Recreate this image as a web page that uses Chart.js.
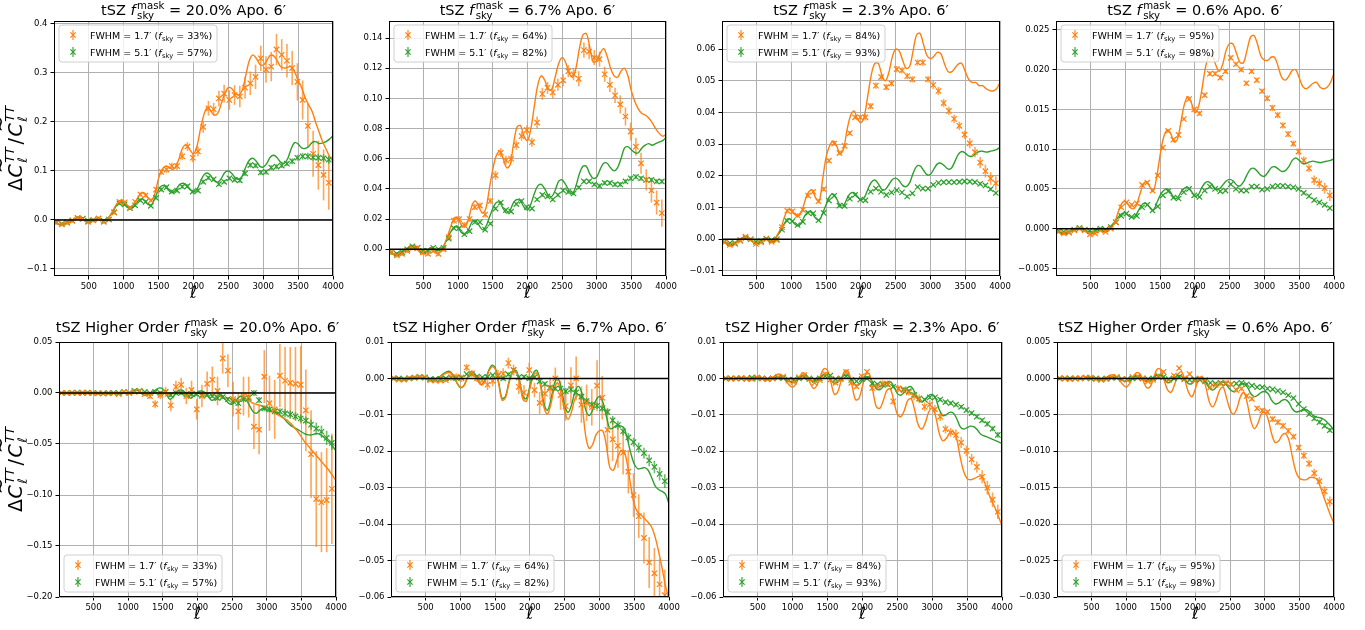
<!DOCTYPE html>
<html>
<head>
<meta charset="utf-8">
<style>
  html, body { margin: 0; padding: 0; background: #fff; }
  #fig { position: relative; width: 1365px; height: 630px; overflow: hidden; }
  #fig canvas { position: absolute; }
</style>
</head>
<body>
<div id="fig"></div>
<script src="https://cdn.jsdelivr.net/npm/chart.js@4.4.1/dist/chart.umd.min.js"></script>
<script>
// multipole bin centres of the measured points, and the grid the theory curves are sampled on
var ELL_BINS = [40,115,190,265,340,415,490,565,640,715,790,865,940,1015,1090,1165,1240,1315,1390,1465,1540,1615,1690,1765,1840,1915,1990,2065,2140,2215,2290,2365,2440,2515,2590,2665,2740,2815,2890,2965,3040,3115,3190,3265,3340,3415,3490,3565,3640,3715,3790,3865,3940];
var ELL_LINE = [0,50,100,150,200,250,300,350,400,450,500,550,600,650,700,750,800,850,900,950,1000,1050,1100,1150,1200,1250,1300,1350,1400,1450,1500,1550,1600,1650,1700,1750,1800,1850,1900,1950,2000,2050,2100,2150,2200,2250,2300,2350,2400,2450,2500,2550,2600,2650,2700,2750,2800,2850,2900,2950,3000,3050,3100,3150,3200,3250,3300,3350,3400,3450,3500,3550,3600,3650,3700,3750,3800,3850,3900,3950,4000];
var X_TICKS = [500,1000,1500,2000,2500,3000,3500,4000];

var FSKY_MASK = ['20.0%', '6.7%', '2.3%', '0.6%'];
var FSKY_17 = [33, 64, 84, 95];
var FSKY_51 = [57, 82, 93, 98];

var Y_TICKS_TSZ_20 = [-0.1, 0, 0.1, 0.2, 0.3, 0.4];
var Y_TICKS_TSZ_67 = [0, 0.02, 0.04, 0.06, 0.08, 0.1, 0.12, 0.14];
var Y_TICKS_TSZ_23 = [-0.01, 0, 0.01, 0.02, 0.03, 0.04, 0.05, 0.06];
var Y_TICKS_TSZ_06 = [-0.005, 0, 0.005, 0.01, 0.015, 0.02, 0.025];
var Y_TICKS_HO_20 = [-0.2, -0.15, -0.1, -0.05, 0, 0.05];
var Y_TICKS_HO_67 = [-0.06, -0.05, -0.04, -0.03, -0.02, -0.01, 0, 0.01];
var Y_TICKS_HO_23 = [-0.06, -0.05, -0.04, -0.03, -0.02, -0.01, 0, 0.01];
var Y_TICKS_HO_06 = [-0.03, -0.025, -0.02, -0.015, -0.01, -0.005, 0, 0.005];

// ---- tSZ, fsky mask 20.0%
var TSZ_20_LINE_17 = [-0.005,-0.008,-0.01,-0.008,-0.006,-0.002,0.002,0.004,0.002,-0.002,
 -0.004,-0.002,0.001,0.002,-0.002,0.0,0.008,0.02,0.033,0.04,
 0.038,0.03,0.026,0.032,0.045,0.055,0.055,0.045,0.04,0.055,
 0.085,0.103,0.11,0.108,0.103,0.11,0.128,0.148,0.153,0.143,
 0.135,0.15,0.185,0.215,0.23,0.222,0.214,0.218,0.238,0.258,
 0.27,0.268,0.258,0.255,0.265,0.295,0.325,0.337,0.33,0.318,
 0.316,0.325,0.336,0.335,0.325,0.313,0.31,0.312,0.313,0.302,
 0.285,0.27,0.25,0.235,0.222,0.2,0.18,0.16,0.145,0.13,0.12];
var TSZ_20_LINE_51 = [-0.005,-0.008,-0.009,-0.007,-0.005,-0.001,0.003,0.005,0.003,-0.001,
 -0.003,-0.001,0.002,0.003,-0.001,0.0,0.008,0.018,0.03,0.036,
 0.033,0.026,0.023,0.028,0.038,0.043,0.04,0.032,0.031,0.045,
 0.062,0.07,0.068,0.06,0.056,0.062,0.072,0.075,0.07,0.062,
 0.058,0.062,0.078,0.092,0.096,0.09,0.08,0.077,0.085,0.097,
 0.1,0.095,0.086,0.083,0.09,0.108,0.122,0.126,0.12,0.11,
 0.108,0.115,0.128,0.132,0.127,0.118,0.116,0.125,0.145,0.158,
 0.155,0.147,0.146,0.15,0.158,0.16,0.156,0.157,0.16,0.165,0.172];
var TSZ_20_PTS_17 = [-0.005,-0.009,-0.006,-0.002,0.004,0.002,-0.004,-0.001,0.003,-0.004,
 0.001,0.015,0.037,0.036,0.025,0.037,0.052,0.05,0.04,0.062,
 0.098,0.103,0.11,0.11,0.13,0.15,0.127,0.14,0.19,0.228,
 0.226,0.248,0.258,0.245,0.255,0.252,0.27,0.279,0.292,0.33,
 0.307,0.313,0.348,0.337,0.325,0.31,0.282,0.245,0.192,0.135,
 0.112,0.092,0.076];
var TSZ_20_ERR_17 = [0.004,0.004,0.004,0.004,0.004,0.004,0.004,0.004,0.004,0.004,
 0.004,0.004,0.004,0.004,0.004,0.004,0.004,0.004,0.004,0.006,
 0.006,0.007,0.007,0.008,0.008,0.009,0.009,0.01,0.012,0.015,
 0.013,0.016,0.018,0.02,0.02,0.022,0.022,0.024,0.025,0.026,
 0.027,0.03,0.032,0.032,0.034,0.035,0.038,0.04,0.045,0.047,
 0.05,0.052,0.055];
var TSZ_20_PTS_51 = [-0.005,-0.008,-0.005,-0.001,0.004,0.003,-0.002,0.0,0.003,-0.002,
 0.001,0.016,0.034,0.032,0.024,0.03,0.04,0.037,0.029,0.045,
 0.062,0.067,0.058,0.06,0.068,0.069,0.058,0.06,0.078,0.086,
 0.083,0.073,0.078,0.085,0.082,0.081,0.095,0.112,0.111,0.097,
 0.098,0.107,0.109,0.111,0.115,0.12,0.127,0.13,0.13,0.128,
 0.127,0.126,0.123];
var TSZ_20_ERR_51 = [0.003,0.003,0.003,0.003,0.003,0.003,0.003,0.003,0.003,0.003,
 0.003,0.003,0.003,0.003,0.003,0.003,0.003,0.003,0.003,0.003,
 0.004,0.004,0.004,0.004,0.004,0.004,0.004,0.004,0.004,0.004,
 0.004,0.004,0.004,0.004,0.004,0.005,0.005,0.005,0.005,0.005,
 0.005,0.005,0.005,0.005,0.005,0.006,0.006,0.007,0.007,0.007,
 0.008,0.008,0.008];

// ---- tSZ, fsky mask 6.7%
var TSZ_67_LINE_17 = [-0.002,-0.003,-0.004,-0.003,-0.002,0.0,0.002,0.002,0.0,-0.002,
 -0.003,-0.002,0.0,-0.001,-0.003,-0.001,0.003,0.009,0.016,0.021,
 0.02,0.016,0.015,0.02,0.029,0.032,0.028,0.024,0.027,0.04,
 0.053,0.062,0.065,0.06,0.054,0.056,0.07,0.081,0.082,0.075,
 0.072,0.08,0.095,0.109,0.115,0.112,0.106,0.106,0.114,0.123,
 0.127,0.124,0.117,0.114,0.12,0.133,0.142,0.143,0.134,0.124,
 0.125,0.13,0.133,0.128,0.12,0.115,0.114,0.118,0.12,0.115,
 0.105,0.098,0.093,0.09,0.089,0.087,0.084,0.08,0.077,0.075,0.076];
var TSZ_67_LINE_51 = [-0.002,-0.003,-0.003,-0.002,-0.001,0.0,0.002,0.002,0.001,-0.001,
 -0.002,-0.001,0.001,0.0,-0.001,0.0,0.003,0.008,0.012,0.015,
 0.014,0.011,0.01,0.013,0.018,0.019,0.016,0.013,0.015,0.021,
 0.027,0.031,0.031,0.027,0.024,0.026,0.031,0.033,0.032,0.028,
 0.026,0.03,0.037,0.042,0.043,0.04,0.036,0.035,0.039,0.045,
 0.046,0.043,0.039,0.037,0.042,0.05,0.055,0.055,0.05,0.047,
 0.048,0.053,0.057,0.057,0.054,0.052,0.054,0.06,0.067,0.068,
 0.066,0.064,0.064,0.067,0.069,0.07,0.069,0.07,0.071,0.072,0.074];
var TSZ_67_PTS_17 = [-0.002,-0.004,-0.003,-0.001,0.001,0.001,-0.002,-0.003,-0.001,-0.003,
 0.0,0.008,0.019,0.02,0.016,0.02,0.028,0.029,0.023,0.032,
 0.049,0.064,0.059,0.06,0.069,0.075,0.079,0.071,0.084,0.103,
 0.107,0.104,0.109,0.112,0.118,0.116,0.113,0.132,0.131,0.127,
 0.126,0.116,0.109,0.102,0.096,0.088,0.078,0.068,0.057,0.046,
 0.039,0.031,0.024];
var TSZ_67_ERR_17 = [0.0015,0.0015,0.0015,0.0015,0.0015,0.0015,0.0015,0.0015,0.0015,0.0015,
 0.0015,0.002,0.002,0.002,0.002,0.002,0.002,0.002,0.002,0.002,
 0.003,0.003,0.003,0.003,0.003,0.003,0.003,0.003,0.004,0.004,
 0.004,0.004,0.004,0.004,0.004,0.004,0.005,0.005,0.005,0.005,
 0.005,0.005,0.005,0.005,0.006,0.006,0.006,0.006,0.007,0.007,
 0.008,0.008,0.009];
var TSZ_67_PTS_51 = [-0.002,-0.003,-0.002,0.0,0.002,0.001,-0.001,-0.001,0.001,0.0,
 0.001,0.007,0.014,0.014,0.01,0.012,0.018,0.018,0.013,0.017,
 0.027,0.031,0.026,0.025,0.03,0.032,0.028,0.027,0.033,0.036,
 0.035,0.033,0.036,0.039,0.038,0.037,0.041,0.045,0.045,0.043,
 0.042,0.044,0.044,0.043,0.043,0.045,0.047,0.048,0.047,0.046,
 0.046,0.045,0.045];
var TSZ_67_ERR_51 = [0.001,0.001,0.001,0.001,0.001,0.001,0.001,0.001,0.001,0.001,
 0.001,0.001,0.001,0.001,0.001,0.001,0.001,0.001,0.001,0.001,
 0.001,0.001,0.001,0.001,0.001,0.0012,0.0012,0.0012,0.0012,0.0012,
 0.0012,0.0012,0.0012,0.0012,0.0012,0.0012,0.0012,0.0012,0.0012,0.0012,
 0.0015,0.0015,0.0015,0.0015,0.0015,0.0015,0.0015,0.0015,0.0015,0.0015,
 0.0015,0.0015,0.0015];

// ---- tSZ, fsky mask 2.3%
var TSZ_23_LINE_17 = [-0.001,-0.001,-0.002,-0.002,-0.001,0.0,0.0005,0.0008,0.0,-0.001,
 -0.0015,-0.001,0.0,0.0,-0.001,-0.0005,0.0015,0.0035,0.007,0.0093,
 0.009,0.0078,0.0072,0.0088,0.0125,0.015,0.0155,0.013,0.012,0.019,
 0.026,0.0295,0.031,0.0295,0.027,0.0285,0.0345,0.039,0.0405,0.038,
 0.0368,0.039,0.0455,0.052,0.0555,0.0555,0.052,0.05,0.0525,0.0575,
 0.06,0.0595,0.0565,0.054,0.0545,0.0595,0.0645,0.065,0.0615,0.058,
 0.057,0.0578,0.059,0.0585,0.0555,0.053,0.0528,0.054,0.0553,0.0555,
 0.053,0.0505,0.0495,0.0495,0.0485,0.0485,0.0475,0.047,0.0468,0.0475,0.0495];
var TSZ_23_LINE_51 = [-0.0008,-0.001,-0.0015,-0.0015,-0.001,-0.0002,0.0003,0.0005,0.0,-0.0008,
 -0.001,-0.0007,0.0001,0.0001,-0.0006,-0.0002,0.0012,0.0028,0.005,0.0065,
 0.006,0.0048,0.0042,0.0055,0.0077,0.0088,0.0082,0.0066,0.006,0.0082,
 0.011,0.0135,0.0143,0.0128,0.0107,0.0107,0.0128,0.0145,0.0147,0.0135,
 0.0124,0.0132,0.0158,0.018,0.0187,0.0175,0.0158,0.0157,0.0172,0.0188,
 0.0193,0.0185,0.017,0.0166,0.0178,0.0208,0.023,0.0232,0.0218,0.0204,
 0.0205,0.0222,0.0238,0.024,0.0232,0.0222,0.0224,0.0245,0.0268,0.0277,
 0.0272,0.0263,0.0262,0.027,0.0277,0.0278,0.0275,0.0277,0.028,0.0283,0.029];
var TSZ_23_PTS_17 = [-0.001,-0.0018,-0.0015,-0.0005,0.0008,0.0,-0.0015,-0.001,0.0,-0.0008,
 -0.0003,0.0038,0.009,0.0088,0.0075,0.0093,0.0138,0.015,0.012,0.0158,
 0.0248,0.0302,0.0272,0.0295,0.0335,0.0385,0.0385,0.0385,0.042,0.0485,
 0.0512,0.048,0.0492,0.0537,0.0533,0.0515,0.0505,0.0558,0.0558,0.0505,
 0.0487,0.0468,0.043,0.0405,0.038,0.0358,0.033,0.0303,0.0275,0.0242,
 0.0215,0.0192,0.0177];
var TSZ_23_ERR_17 = [0.0004,0.0004,0.0004,0.0004,0.0004,0.0004,0.0004,0.0004,0.0004,0.0004,
 0.0004,0.0007,0.0007,0.0007,0.0007,0.0007,0.0007,0.0007,0.0007,0.0007,
 0.0007,0.0007,0.0007,0.0007,0.0007,0.0007,0.0007,0.001,0.001,0.001,
 0.001,0.001,0.001,0.001,0.001,0.001,0.001,0.001,0.001,0.001,
 0.0013,0.0013,0.0013,0.0013,0.0013,0.0013,0.0013,0.0016,0.0017,0.0018,
 0.002,0.002,0.0022];
var TSZ_23_PTS_51 = [-0.0008,-0.0012,-0.0012,-0.0003,0.0004,0.0,-0.0008,-0.0006,0.0002,-0.0003,
 0.0,0.003,0.0058,0.0057,0.0045,0.0055,0.0083,0.0082,0.006,0.0083,
 0.0122,0.0137,0.0106,0.0105,0.0128,0.014,0.0125,0.0123,0.015,0.016,
 0.015,0.014,0.0148,0.0155,0.0148,0.0135,0.0145,0.0165,0.016,0.016,
 0.0172,0.0178,0.018,0.018,0.018,0.0181,0.0183,0.0182,0.018,0.0175,
 0.017,0.0158,0.0146];
var TSZ_23_ERR_51 = [0.0003,0.0003,0.0003,0.0003,0.0003,0.0003,0.0003,0.0003,0.0003,0.0003,
 0.0003,0.0003,0.0003,0.0003,0.0003,0.0003,0.0003,0.0003,0.0003,0.0003,
 0.0003,0.0003,0.0003,0.0003,0.0003,0.0003,0.0003,0.0004,0.0004,0.0004,
 0.0004,0.0004,0.0004,0.0004,0.0004,0.0004,0.0004,0.0004,0.0004,0.0004,
 0.0004,0.0004,0.0004,0.0004,0.0004,0.0005,0.0005,0.0005,0.0005,0.0005,
 0.0005,0.0005,0.0005];

// ---- tSZ, fsky mask 0.6%
var TSZ_06_LINE_17 = [-0.0003,-0.0005,-0.0007,-0.0006,-0.0004,-0.0002,0.0,0.0001,-0.0002,-0.0005,
 -0.0007,-0.0006,-0.0003,-0.0002,-0.0004,-0.0002,0.0003,0.0009,0.0022,0.0032,
 0.0034,0.0029,0.0025,0.0028,0.0041,0.0054,0.0059,0.0053,0.0047,0.0065,
 0.0093,0.0115,0.0124,0.012,0.0109,0.0113,0.0135,0.0157,0.0166,0.0158,
 0.0146,0.0153,0.0175,0.0202,0.0217,0.0218,0.0206,0.0198,0.0207,0.0225,
 0.0233,0.0232,0.022,0.0209,0.0209,0.0225,0.0241,0.0243,0.0232,0.0217,
 0.0212,0.0212,0.0216,0.0215,0.0203,0.019,0.0187,0.0192,0.0199,0.02,
 0.019,0.0179,0.0176,0.0179,0.0183,0.0184,0.0178,0.0176,0.0178,0.0184,0.0196];
var TSZ_06_LINE_51 = [-0.0003,-0.0004,-0.0005,-0.0005,-0.0003,-0.0001,0.0,0.0001,-0.0001,-0.0003,
 -0.0004,-0.0003,-0.0001,0.0,-0.0001,0.0,0.0004,0.0009,0.0015,0.0019,
 0.002,0.0016,0.0014,0.0017,0.0025,0.0031,0.0032,0.0027,0.0023,0.0032,
 0.0042,0.0048,0.005,0.0046,0.0039,0.0039,0.0046,0.0051,0.0052,0.0047,
 0.0041,0.0043,0.0052,0.0058,0.0059,0.0055,0.005,0.005,0.0055,0.006,
 0.0062,0.006,0.0055,0.0054,0.0059,0.0068,0.0075,0.0076,0.0072,0.0067,
 0.0066,0.0071,0.0077,0.0078,0.0075,0.0072,0.0073,0.0078,0.0086,0.0089,
 0.0086,0.0082,0.0082,0.0084,0.0085,0.0084,0.0083,0.0084,0.0085,0.0086,0.0088];
var TSZ_06_PTS_17 = [-0.0004,-0.0006,-0.0005,-0.0002,0.0,-0.0002,-0.0007,-0.0006,-0.0002,-0.0004,
 0.0,0.0008,0.0027,0.0033,0.003,0.0032,0.0055,0.0058,0.0048,0.0067,
 0.0102,0.0123,0.0112,0.0118,0.0138,0.0163,0.015,0.0145,0.0168,0.0195,
 0.0195,0.019,0.0198,0.0215,0.0207,0.02,0.0183,0.0198,0.0187,0.0173,
 0.0164,0.0152,0.0143,0.013,0.0119,0.0107,0.0097,0.0086,0.0076,0.0061,
 0.0057,0.0051,0.0042];
var TSZ_06_ERR_17 = [0.00015,0.00015,0.00015,0.00015,0.00015,0.00015,0.00015,0.00015,0.00015,0.00015,
 0.00015,0.0002,0.0002,0.0002,0.0002,0.0002,0.0002,0.0002,0.0002,0.0002,
 0.0002,0.0002,0.0002,0.0002,0.0002,0.0002,0.0002,0.0003,0.0003,0.0003,
 0.0003,0.0003,0.0003,0.0003,0.0003,0.0003,0.0003,0.0003,0.0003,0.0003,
 0.0004,0.0004,0.0004,0.0004,0.0004,0.0004,0.0004,0.0005,0.0005,0.0006,
 0.0006,0.0007,0.0007];
var TSZ_06_PTS_51 = [-0.0003,-0.0004,-0.0004,-0.0001,0.0001,-0.0001,-0.0003,-0.0002,0.0,-0.0001,
 0.0002,0.0008,0.0016,0.0019,0.0015,0.0016,0.0027,0.003,0.0023,0.0028,
 0.0042,0.0047,0.0039,0.0038,0.0046,0.005,0.0042,0.004,0.0048,0.0053,
 0.005,0.0047,0.0048,0.0056,0.005,0.0048,0.0048,0.0053,0.0053,0.0049,
 0.005,0.0053,0.0054,0.0054,0.0053,0.0052,0.005,0.0045,0.0041,0.0036,
 0.0033,0.003,0.0026];
var TSZ_06_ERR_51 = [0.0001,0.0001,0.0001,0.0001,0.0001,0.0001,0.0001,0.0001,0.0001,0.0001,
 0.0001,0.0001,0.0001,0.0001,0.0001,0.0001,0.0001,0.0001,0.0001,0.0001,
 0.0001,0.0001,0.0001,0.0001,0.0001,0.0001,0.0001,0.0001,0.0001,0.0001,
 0.0001,0.00015,0.00015,0.00015,0.00015,0.00015,0.00015,0.00015,0.00015,0.00015,
 0.00015,0.00015,0.00015,0.00015,0.00015,0.00015,0.00015,0.0002,0.0002,0.0002,
 0.0002,0.0002,0.0002];

// ---- tSZ higher order, fsky mask 20.0%
var HO_20_LINE_17 = [0,0,0,0,0.0002,0.0003,0,-0.0003,0,0.0002,
 0,-0.0002,0,0.0002,0,-0.0002,0,0.0003,0,-0.0003,
 0,0.001,0.001,0,0,-0.001,-0.001,0,0,0.001,
 0.001,-0.001,-0.002,0,0.001,0,-0.001,-0.002,-0.001,0,
 0,-0.001,-0.002,-0.003,-0.002,-0.002,-0.003,-0.004,-0.005,-0.005,
 -0.006,-0.007,-0.007,-0.006,-0.007,-0.008,-0.01,-0.011,-0.012,-0.013,
 -0.014,-0.016,-0.019,-0.021,-0.023,-0.025,-0.027,-0.03,-0.034,-0.038,
 -0.043,-0.048,-0.052,-0.056,-0.06,-0.064,-0.068,-0.072,-0.076,-0.081,-0.086];
var HO_20_LINE_51 = [0,0,0,0,0.0002,0.0003,0,-0.0003,0,0.0002,
 0,-0.0002,0,0.0002,0,-0.0002,0,0.0003,0,-0.0003,
 0,0.001,0.003,0.002,-0.001,-0.002,-0.001,0.001,0.003,0.005,
 0.004,-0.001,-0.006,-0.004,0.001,0.003,0.002,-0.002,-0.005,-0.003,
 0.001,0.002,0.001,-0.003,-0.007,-0.006,-0.002,-0.002,-0.006,-0.01,
 -0.011,-0.008,-0.004,-0.003,-0.006,-0.012,-0.018,-0.02,-0.017,-0.015,
 -0.016,-0.018,-0.018,-0.019,-0.022,-0.025,-0.029,-0.032,-0.034,-0.036,
 -0.038,-0.04,-0.041,-0.041,-0.04,-0.04,-0.042,-0.045,-0.048,-0.052,-0.057];
var HO_20_PTS_17 = [0,0,0.0005,0,0.0005,0,0,-0.0005,0,-0.0005,
 0,-0.001,0.001,0,0.001,0.002,-0.001,-0.003,-0.011,-0.002,
 0.001,-0.012,0.006,0.008,-0.003,0.003,-0.016,-0.003,0.009,0.013,
 0.002,0.034,0.022,-0.006,-0.018,-0.003,-0.004,-0.033,-0.036,0.016,
 -0.01,-0.016,0.017,0.012,0.01,0.009,0.008,-0.017,-0.06,-0.104,
 -0.107,-0.105,-0.094];
var HO_20_ERR_17 = [0.001,0.001,0.001,0.001,0.001,0.001,0.001,0.001,0.001,0.001,
 0.001,0.001,0.001,0.0015,0.002,0.002,0.002,0.003,0.004,0.004,
 0.005,0.006,0.006,0.007,0.008,0.009,0.01,0.011,0.012,0.013,
 0.014,0.015,0.016,0.017,0.018,0.019,0.02,0.022,0.024,0.026,
 0.027,0.029,0.031,0.033,0.035,0.036,0.038,0.04,0.043,0.047,
 0.049,0.051,0.054];
var HO_20_PTS_51 = [0,0,0,0.0003,0,0.0005,0,0,-0.0005,0,
 0,0,0.001,0,0.002,0.002,0.001,0,0.001,0,
 0.001,-0.002,0,0,-0.001,-0.001,-0.001,-0.002,-0.002,-0.003,
 -0.005,-0.004,-0.006,-0.008,-0.01,-0.006,-0.005,0,-0.007,-0.015,
 -0.016,-0.018,-0.018,-0.02,-0.021,-0.023,-0.025,-0.027,-0.031,-0.035,
 -0.038,-0.044,-0.049];
var HO_20_ERR_51 = [0.001,0.001,0.001,0.001,0.001,0.001,0.001,0.001,0.001,0.001,
 0.001,0.001,0.001,0.001,0.001,0.001,0.001,0.001,0.001,0.001,
 0.002,0.002,0.002,0.002,0.002,0.002,0.002,0.002,0.002,0.002,
 0.002,0.002,0.002,0.002,0.003,0.003,0.003,0.003,0.003,0.003,
 0.003,0.003,0.003,0.004,0.004,0.004,0.004,0.004,0.005,0.006,
 0.006,0.007,0.007];

// ---- tSZ higher order, fsky mask 6.7%
var HO_67_LINE_17 = [0,0.0001,0.0002,0,-0.0002,0,0.0002,0.0002,0.0004,0.0003,
 0,-0.0003,-0.0004,-0.0002,0.0003,0.001,0.0015,0.0016,0.0006,-0.0012,
 -0.0024,-0.002,0.0001,0.0015,0.0012,-0.0006,-0.0018,-0.001,0.0015,0.0032,
 0.0026,-0.0015,-0.006,-0.0052,-0.0012,0.0015,0.0018,-0.001,-0.0058,-0.0062,
 -0.0028,0.0008,0.0015,-0.0018,-0.0078,-0.0098,-0.0072,-0.0028,-0.0012,-0.004,
 -0.0092,-0.0112,-0.009,-0.0055,-0.0045,-0.0075,-0.0155,-0.0192,-0.0182,-0.0155,
 -0.0143,-0.0145,-0.0185,-0.0245,-0.0252,-0.0225,-0.02,-0.0198,-0.0235,-0.0295,
 -0.0345,-0.0368,-0.0375,-0.0385,-0.0395,-0.0408,-0.0435,-0.0475,-0.052,-0.057,-0.0605];
var HO_67_LINE_51 = [0,0.0001,0.0002,0,-0.0002,0,0.0002,0.0002,0.0004,0.0003,
 0,-0.0003,-0.0004,-0.0002,0.0004,0.0012,0.0018,0.0019,0.0008,-0.0012,
 -0.0025,-0.002,0.0002,0.0017,0.0014,-0.0004,-0.0017,-0.0008,0.0018,0.0036,
 0.003,-0.001,-0.0055,-0.0048,-0.0008,0.0018,0.0022,-0.0005,-0.005,-0.0055,
 -0.002,0.0015,0.0022,-0.001,-0.0068,-0.0088,-0.006,-0.0015,0,-0.0025,
 -0.0075,-0.0093,-0.0072,-0.0035,-0.0022,-0.0042,-0.0085,-0.0102,-0.0088,-0.006,
 -0.005,-0.0065,-0.0105,-0.0138,-0.0135,-0.0128,-0.013,-0.0135,-0.0165,-0.0205,
 -0.0235,-0.0248,-0.0247,-0.0245,-0.0252,-0.0272,-0.0295,-0.0305,-0.031,-0.0318,-0.0345];
var HO_67_PTS_17 = [0,-0.0003,-0.0003,0.0001,0.0002,0.0004,0.0003,-0.0005,-0.0006,-0.0006,
 -0.0005,0.0003,0.0004,0,0.003,0.0014,0,-0.0005,-0.0017,-0.0007,
 0.0009,0.0013,0.0042,0.0023,-0.0023,-0.0039,0.0023,-0.0032,-0.0067,-0.0042,
 -0.0028,0,-0.0046,-0.0076,-0.0019,0,-0.0072,-0.0067,-0.0079,-0.002,
 -0.0053,-0.0141,-0.0167,-0.0185,-0.0204,-0.0256,-0.032,-0.0378,-0.0438,-0.0505,
 -0.0535,-0.0565,-0.0595];
var HO_67_ERR_17 = [0.0005,0.0005,0.0005,0.0005,0.0005,0.0005,0.0005,0.0005,0.0005,0.0005,
 0.0005,0.001,0.001,0.001,0.001,0.001,0.001,0.001,0.0015,0.0015,
 0.0015,0.0015,0.0015,0.0015,0.002,0.002,0.002,0.002,0.003,0.003,
 0.003,0.003,0.004,0.004,0.005,0.006,0.005,0.005,0.005,0.007,
 0.006,0.006,0.006,0.006,0.006,0.006,0.006,0.006,0.007,0.007,
 0.007,0.007,0.007];
var HO_67_PTS_51 = [0,0,-0.0002,0,0.0002,0.0004,0.0002,-0.0002,-0.0002,-0.0001,
 0,0.0002,0.0001,0.0002,0.0012,0.0012,0.0005,0.0003,0.0004,0.0009,
 0.0007,0,0.0011,0.0023,0.0003,0.0004,0,0.0003,-0.0008,-0.0015,
 -0.0025,-0.0028,-0.0028,-0.0035,-0.003,-0.0038,-0.005,-0.0062,-0.0072,-0.0075,
 -0.0082,-0.0092,-0.0115,-0.0128,-0.0145,-0.0162,-0.0175,-0.019,-0.0205,-0.0225,
 -0.0243,-0.0262,-0.0282];
var HO_67_ERR_51 = [0.0003,0.0003,0.0003,0.0003,0.0003,0.0003,0.0003,0.0003,0.0003,0.0003,
 0.0003,0.0003,0.0003,0.0003,0.0003,0.0003,0.0003,0.0003,0.0003,0.0003,
 0.0006,0.0006,0.0006,0.0006,0.0006,0.0006,0.0006,0.0006,0.0006,0.0006,
 0.0006,0.0006,0.0006,0.0009,0.0009,0.0009,0.0009,0.0009,0.0009,0.0009,
 0.0009,0.0009,0.0012,0.0012,0.0012,0.0012,0.0012,0.0014,0.0015,0.0016,
 0.0017,0.0018,0.0019];

// ---- tSZ higher order, fsky mask 2.3%
var HO_23_LINE_17 = [0,0,-0.0001,-0.0002,0,0.0002,0,-0.0003,-0.0002,0.0003,
 0.0004,0,-0.0004,-0.0003,0.0002,0.0008,0.0012,0.0008,-0.0004,-0.0018,
 -0.0024,-0.0014,0.0005,0.0016,0.0008,-0.0012,-0.0028,-0.0018,0.0008,0.0027,
 0.0022,-0.0012,-0.0044,-0.0035,-0.0002,0.0022,0.0018,-0.0018,-0.0058,-0.0055,
 -0.0022,0.0011,0.0012,-0.0035,-0.0078,-0.0082,-0.006,-0.0033,-0.0029,-0.0062,
 -0.0098,-0.0105,-0.0088,-0.006,-0.0056,-0.0088,-0.0128,-0.0139,-0.0122,-0.0092,
 -0.0081,-0.0105,-0.015,-0.0171,-0.0165,-0.015,-0.0146,-0.0165,-0.0215,-0.0255,
 -0.0275,-0.0278,-0.0275,-0.027,-0.0268,-0.0285,-0.0312,-0.0335,-0.0355,-0.038,-0.0403];
var HO_23_LINE_51 = [0,0,-0.0001,-0.0001,0,0.0001,0,-0.0002,-0.0001,0.0002,
 0.0003,0,-0.0003,-0.0002,0,0.0002,0.0004,0.0002,-0.0002,-0.0008,
 -0.0011,-0.0005,0.0003,0.0007,0.0003,-0.0005,-0.0009,-0.0004,0.0005,0.001,
 0.0007,-0.0005,-0.0014,-0.001,0.0002,0.0009,0.0007,-0.0005,-0.0018,-0.0017,
 -0.0005,0.0004,0.0003,-0.0012,-0.0028,-0.0031,-0.0022,-0.0012,-0.0009,-0.0022,
 -0.0041,-0.0046,-0.0038,-0.0025,-0.0023,-0.0038,-0.0058,-0.0065,-0.0058,-0.0047,
 -0.0044,-0.0055,-0.0085,-0.0102,-0.01,-0.0093,-0.0095,-0.011,-0.0132,-0.0139,
 -0.0135,-0.0131,-0.0133,-0.0142,-0.0154,-0.0158,-0.0162,-0.0166,-0.017,-0.0174,-0.0179];
var HO_23_PTS_17 = [0,-0.0001,0,0.0001,0,-0.0002,0.0003,0,-0.0002,0,
 0.0004,0.0005,-0.0006,-0.001,0.0003,0.0009,-0.0002,-0.0012,-0.0005,0.0012,
 -0.0003,-0.0012,-0.0002,0.0018,-0.0012,-0.0022,0.0006,0.0018,-0.0026,-0.0022,
 -0.0014,-0.0015,-0.0063,-0.0028,-0.0033,-0.0038,-0.0048,-0.0056,-0.0078,-0.0072,
 -0.0085,-0.0105,-0.0139,-0.0148,-0.0155,-0.0176,-0.0199,-0.0222,-0.0243,-0.027,
 -0.03,-0.0333,-0.0366];
var HO_23_ERR_17 = [0.0003,0.0003,0.0003,0.0003,0.0003,0.0003,0.0003,0.0003,0.0003,0.0003,
 0.0003,0.0003,0.0003,0.0003,0.0003,0.0003,0.0003,0.0003,0.0003,0.0006,
 0.0006,0.0006,0.0006,0.0006,0.0006,0.0006,0.0006,0.0006,0.0009,0.0009,
 0.0009,0.0009,0.0009,0.0009,0.0009,0.0009,0.0012,0.0012,0.0012,0.0012,
 0.0012,0.0012,0.0012,0.0012,0.0015,0.0015,0.0015,0.0015,0.0015,0.0018,
 0.0019,0.002,0.002];
var HO_23_PTS_51 = [0,0,0,0,-0.0001,0.0002,0.0001,0,-0.0002,0,
 0.0002,0.0001,-0.0003,-0.0004,0,0.0003,0,-0.0004,0,0.0006,
 0.0008,-0.0002,0,0.0006,-0.0004,-0.0008,-0.0002,0,-0.0014,-0.0016,
 -0.0017,-0.0017,-0.0023,-0.0028,-0.003,-0.0035,-0.0045,-0.0055,-0.0058,-0.0052,
 -0.0052,-0.0058,-0.0065,-0.0068,-0.0072,-0.0078,-0.0087,-0.0095,-0.0105,-0.0115,
 -0.0125,-0.0138,-0.0155];
var HO_23_ERR_51 = [0.0002,0.0002,0.0002,0.0002,0.0002,0.0002,0.0002,0.0002,0.0002,0.0002,
 0.0002,0.0002,0.0002,0.0002,0.0002,0.0002,0.0002,0.0002,0.0002,0.0002,
 0.0002,0.0002,0.0002,0.0002,0.0002,0.0002,0.0002,0.0004,0.0004,0.0004,
 0.0004,0.0004,0.0004,0.0004,0.0004,0.0004,0.0004,0.0004,0.0004,0.0004,
 0.0004,0.0005,0.0005,0.0005,0.0005,0.0005,0.0005,0.0005,0.0005,0.0006,
 0.0007,0.0007,0.0008];

// ---- tSZ higher order, fsky mask 0.6%
var HO_06_LINE_17 = [0,0,0,-0.0001,0,0.0001,0,-0.0001,-0.0001,0.0001,
 0.0002,0,-0.0002,-0.0001,0.0001,0.0003,0.0005,0.0003,-0.0002,-0.0008,
 -0.0012,-0.0007,0.0002,0.0008,0.0006,-0.0004,-0.0013,-0.0011,0.0002,0.0013,
 0.0012,-0.0003,-0.0016,-0.0019,-0.0008,0.0006,0.0009,-0.0003,-0.0019,-0.0025,
 -0.0014,0,0.0002,-0.0012,-0.0032,-0.0039,-0.003,-0.0016,-0.0012,-0.0027,
 -0.0043,-0.0049,-0.0041,-0.0025,-0.0019,-0.0035,-0.0058,-0.0069,-0.0062,-0.0049,
 -0.0046,-0.0056,-0.0076,-0.0088,-0.0086,-0.0078,-0.0076,-0.0085,-0.0108,-0.0128,
 -0.0137,-0.0139,-0.0139,-0.0136,-0.0136,-0.0138,-0.0148,-0.0162,-0.0175,-0.0188,-0.0199];
var HO_06_LINE_51 = [0,0,0,-0.0001,0,0,0,-0.0001,0,0.0001,
 0.0001,0,-0.0001,-0.0001,0,0.0001,0.0002,0.0001,-0.0001,-0.0003,
 -0.0004,-0.0002,0.0001,0.0003,0.0001,-0.0002,-0.0004,-0.0002,0.0002,0.0005,
 0.0004,-0.0001,-0.0006,-0.0004,0.0001,0.0004,0.0003,-0.0002,-0.0007,-0.0007,
 -0.0002,0.0001,0,-0.0006,-0.0013,-0.0016,-0.0012,-0.0007,-0.0005,-0.0009,
 -0.0015,-0.0018,-0.0015,-0.0009,-0.0007,-0.0012,-0.0021,-0.0025,-0.0023,-0.0019,
 -0.0018,-0.0021,-0.003,-0.0035,-0.0034,-0.003,-0.0029,-0.0033,-0.0042,-0.0046,
 -0.0045,-0.0043,-0.0043,-0.0046,-0.0051,-0.0053,-0.0054,-0.0056,-0.006,-0.0065,-0.0072];
var HO_06_PTS_17 = [0,0,-0.0001,0,0,0.0001,0.0001,-0.0001,-0.0002,-0.0001,
 0.0001,0.0002,-0.0001,-0.0002,0.0002,0.0003,0,-0.0004,-0.0002,0.0004,
 0.0009,-0.0002,0.0004,0.0014,0,0.0006,-0.0003,0,-0.0002,-0.0012,
 -0.0009,-0.0007,-0.0006,-0.0008,-0.0016,-0.0014,-0.0024,-0.0028,-0.0041,-0.0044,
 -0.0046,-0.0056,-0.006,-0.0065,-0.0072,-0.008,-0.0095,-0.0106,-0.0117,-0.013,
 -0.0141,-0.0155,-0.0169];
var HO_06_ERR_17 = [0.0001,0.0001,0.0001,0.0001,0.0001,0.0001,0.0001,0.0001,0.0001,0.0001,
 0.0001,0.0001,0.0001,0.0001,0.0001,0.0001,0.0001,0.0001,0.0001,0.0002,
 0.0002,0.0002,0.0002,0.0002,0.0002,0.0002,0.0002,0.0002,0.0002,0.0002,
 0.0002,0.0003,0.0003,0.0003,0.0003,0.0003,0.0003,0.0003,0.0003,0.0003,
 0.0003,0.0004,0.0004,0.0004,0.0004,0.0004,0.0004,0.0005,0.0005,0.0006,
 0.0006,0.0007,0.0007];
var HO_06_PTS_51 = [0,0,0,0,0,0.0001,0,0,-0.0001,0,
 0.0001,0.0001,-0.0001,-0.0001,0,0.0001,0,-0.0001,0,0.0002,
 0.0002,-0.0001,0,0.0002,-0.0001,-0.0002,-0.0001,-0.0002,-0.0004,-0.0006,
 -0.0007,-0.0006,-0.0007,-0.0008,-0.0007,-0.0006,-0.0008,-0.001,-0.0012,-0.0012,
 -0.0014,-0.0015,-0.0017,-0.0019,-0.0023,-0.0027,-0.0035,-0.0042,-0.0049,-0.0055,
 -0.006,-0.0065,-0.0071];
var HO_06_ERR_51 = [0.0001,0.0001,0.0001,0.0001,0.0001,0.0001,0.0001,0.0001,0.0001,0.0001,
 0.0001,0.0001,0.0001,0.0001,0.0001,0.0001,0.0001,0.0001,0.0001,0.0001,
 0.0001,0.0001,0.0001,0.0001,0.0001,0.0001,0.0001,0.0001,0.0001,0.0001,
 0.0001,0.00015,0.00015,0.00015,0.00015,0.00015,0.00015,0.00015,0.00015,0.00015,
 0.00015,0.00015,0.00015,0.00015,0.00015,0.0002,0.0002,0.00025,0.00025,0.0003,
 0.0003,0.0003,0.0003];

(function(Chart) {
  'use strict';

  var ORANGE = '#ff7f0e', GREEN = '#2ca02c';
  var ORANGE_ERR = 'rgba(255,127,14,0.7)', GREEN_ERR = 'rgba(44,160,44,0.7)';
  var FONT = "'DejaVu Sans', sans-serif";
  var GRID = '#b0b0b0';

  // space round each plot box, inside its canvas (left column gets room for the y label)
  var YW = 50, TH = 24, RW = 20, XH = 34;

  var PANELS = [
    { box: [54, 21, 333, 276], y: [-0.1143, 0.4061], yTicks: Y_TICKS_TSZ_20, dec: 1, col: 0, ho: false,
      line17: TSZ_20_LINE_17, line51: TSZ_20_LINE_51, pts17: TSZ_20_PTS_17, err17: TSZ_20_ERR_17, pts51: TSZ_20_PTS_51, err51: TSZ_20_ERR_51 },
    { box: [389, 21, 666, 276], y: [-0.0177, 0.1513], yTicks: Y_TICKS_TSZ_67, dec: 2, col: 1, ho: false,
      line17: TSZ_67_LINE_17, line51: TSZ_67_LINE_51, pts17: TSZ_67_PTS_17, err17: TSZ_67_ERR_17, pts51: TSZ_67_PTS_51, err51: TSZ_67_ERR_51 },
    { box: [722, 21, 1000, 276], y: [-0.0116, 0.0689], yTicks: Y_TICKS_TSZ_23, dec: 2, col: 2, ho: false,
      line17: TSZ_23_LINE_17, line51: TSZ_23_LINE_51, pts17: TSZ_23_PTS_17, err17: TSZ_23_ERR_17, pts51: TSZ_23_PTS_51, err51: TSZ_23_ERR_51 },
    { box: [1056, 21, 1334, 276], y: [-0.00595, 0.02613], yTicks: Y_TICKS_TSZ_06, dec: 3, col: 3, ho: false,
      line17: TSZ_06_LINE_17, line51: TSZ_06_LINE_51, pts17: TSZ_06_PTS_17, err17: TSZ_06_ERR_17, pts51: TSZ_06_PTS_51, err51: TSZ_06_ERR_51 },
    { box: [59, 342, 336, 597], y: [-0.2, 0.05], yTicks: Y_TICKS_HO_20, dec: 2, col: 0, ho: true,
      line17: HO_20_LINE_17, line51: HO_20_LINE_51, pts17: HO_20_PTS_17, err17: HO_20_ERR_17, pts51: HO_20_PTS_51, err51: HO_20_ERR_51 },
    { box: [391, 342, 669, 597], y: [-0.06, 0.01], yTicks: Y_TICKS_HO_67, dec: 2, col: 1, ho: true,
      line17: HO_67_LINE_17, line51: HO_67_LINE_51, pts17: HO_67_PTS_17, err17: HO_67_ERR_17, pts51: HO_67_PTS_51, err51: HO_67_ERR_51 },
    { box: [723, 342, 1002, 597], y: [-0.06, 0.01], yTicks: Y_TICKS_HO_23, dec: 2, col: 2, ho: true,
      line17: HO_23_LINE_17, line51: HO_23_LINE_51, pts17: HO_23_PTS_17, err17: HO_23_ERR_17, pts51: HO_23_PTS_51, err51: HO_23_ERR_51 },
    { box: [1057, 342, 1334, 597], y: [-0.03, 0.005], yTicks: Y_TICKS_HO_06, dec: 3, col: 3, ho: true,
      line17: HO_06_LINE_17, line51: HO_06_LINE_51, pts17: HO_06_PTS_17, err17: HO_06_ERR_17, pts51: HO_06_PTS_51, err51: HO_06_ERR_51 }
  ];

  function zip(xs, ys) {
    return xs.map(function(x, i) { return { x: x, y: ys[i] }; });
  }

  function fmtTick(v, dec) {
    var s = Math.abs(v).toFixed(dec);
    return (v < -1e-12 ? '\u2212' : '') + s;
  }

  // draws a run of text pieces (sub/superscripts via dy); "over" stacks a piece on the previous one
  function drawRich(ctx, parts, x, y, dry) {
    var cx = x, start = x;
    parts.forEach(function(p) {
      ctx.font = (p.it ? 'italic ' : '') + p.size + 'px ' + FONT;
      var w = ctx.measureText(p.t).width;
      if (p.over) {
        if (!dry) ctx.fillText(p.t, start + (p.dx || 0), y + (p.dy || 0));
        cx = Math.max(cx, start + (p.dx || 0) + w);
      } else {
        start = cx + (p.dx || 0);
        if (!dry) ctx.fillText(p.t, start, y + (p.dy || 0));
        cx = start + w;
      }
      if (p.tilde && !dry) {
        ctx.fillText('~', start + w * 0.32, y - p.size * 0.78);
      }
    });
    return cx - x;
  }

  function drawRichCentered(ctx, parts, cx, y) {
    var w = drawRich(ctx, parts, 0, 0, true);
    drawRich(ctx, parts, cx - w / 2, y, false);
  }

  function titleParts(p) {
    return [
      { t: (p.ho ? 'tSZ Higher Order' : 'tSZ') + ' ', size: 14.5 },
      { t: 'f', size: 14.5, it: true },
      { t: 'mask', size: 10.2, dy: -6.5, dx: 1.5 },
      { t: 'sky', size: 10.2, dy: 3.5, over: true },
      { t: ' = ' + FSKY_MASK[p.col] + ' Apo. 6\u2032', size: 14.5 }
    ];
  }

  function legendParts(fwhm, fsky) {
    return [
      { t: 'FWHM = ' + fwhm + '\u2032 (', size: 9.5 },
      { t: 'f', size: 9.5, it: true },
      { t: 'sky', size: 6.8, dy: 2, dx: 0.5 },
      { t: ' = ' + fsky + '%)', size: 9.5 }
    ];
  }

  var YLABEL_PARTS = [
    { t: '\u0394', size: 19 },
    { t: 'C', size: 19, it: true, dx: 0.5, tilde: true },
    { t: 'TT', size: 13, it: true, dy: -8.5, dx: 1.5 },
    { t: '\u2113', size: 13, it: true, dy: 5, over: true },
    { t: '/', size: 19, dx: 2.5 },
    { t: 'C', size: 19, it: true, dx: 1.5, tilde: true },
    { t: 'TT', size: 13, it: true, dy: -8.5, dx: 1.5 },
    { t: '\u2113', size: 13, it: true, dy: 5, over: true }
  ];

  function roundRect(ctx, x, y, w, h, r) {
    ctx.beginPath();
    ctx.moveTo(x + r, y);
    ctx.arcTo(x + w, y, x + w, y + h, r);
    ctx.arcTo(x + w, y + h, x, y + h, r);
    ctx.arcTo(x, y + h, x, y, r);
    ctx.arcTo(x, y, x + w, y, r);
    ctx.closePath();
  }

  function drawLegendMarker(ctx, x, y, color, errColor) {
    ctx.strokeStyle = errColor;
    ctx.lineWidth = 1.6;
    ctx.beginPath();
    ctx.moveTo(x, y - 5);
    ctx.lineTo(x, y + 5);
    ctx.stroke();
    ctx.strokeStyle = color;
    ctx.lineWidth = 1.2;
    ctx.beginPath();
    ctx.moveTo(x - 2.6, y - 2.6); ctx.lineTo(x + 2.6, y + 2.6);
    ctx.moveTo(x + 2.6, y - 2.6); ctx.lineTo(x - 2.6, y + 2.6);
    ctx.stroke();
  }

  function drawLegend(ctx, ca, p) {
    var w = 158, h = 37;
    var x = ca.left + 5;
    var y = p.ho ? ca.bottom - 5 - h : ca.top + 4;
    roundRect(ctx, x, y, w, h, 3);
    ctx.fillStyle = 'rgba(255,255,255,0.8)';
    ctx.fill();
    ctx.strokeStyle = '#d0d0d0';
    ctx.lineWidth = 1;
    ctx.stroke();

    var rows = [
      { fwhm: '1.7', fsky: FSKY_17[p.col], c: ORANGE, e: ORANGE_ERR },
      { fwhm: '5.1', fsky: FSKY_51[p.col], c: GREEN, e: GREEN_ERR }
    ];
    rows.forEach(function(r, i) {
      var ry = y + 10 + i * 17;
      drawLegendMarker(ctx, x + 14, ry, r.c, r.e);
      ctx.fillStyle = '#000';
      ctx.textBaseline = 'alphabetic';
      ctx.textAlign = 'left';
      drawRich(ctx, legendParts(r.fwhm, r.fsky), x + 31, ry + 3.5, false);
    });
  }

  function decorPlugin(p) {
    return {
      id: 'decor',

      beforeDatasetsDraw: function(chart) {
        var ctx = chart.ctx, ca = chart.chartArea, ys = chart.scales.y;
        ctx.save();
        ctx.beginPath();
        ctx.rect(ca.left, ca.top, ca.right - ca.left, ca.bottom - ca.top);
        ctx.clip();
        chart.data.datasets.forEach(function(ds, i) {
          if (!ds.errors) return;
          var meta = chart.getDatasetMeta(i);
          ctx.strokeStyle = ds.errorColor;
          ctx.lineWidth = 1.6;
          meta.data.forEach(function(pt, j) {
            var v = ds.data[j].y, e = ds.errors[j];
            ctx.beginPath();
            ctx.moveTo(pt.x, ys.getPixelForValue(v - e));
            ctx.lineTo(pt.x, ys.getPixelForValue(v + e));
            ctx.stroke();
          });
        });
        ctx.restore();
      },

      afterDatasetsDraw: function(chart) {
        var ctx = chart.ctx, ca = chart.chartArea;
        var y0 = chart.scales.y.getPixelForValue(0);
        ctx.save();
        ctx.strokeStyle = '#000';
        ctx.lineWidth = 1.5;
        ctx.beginPath();
        ctx.moveTo(ca.left, y0);
        ctx.lineTo(ca.right, y0);
        ctx.stroke();
        ctx.restore();
      },

      afterDraw: function(chart) {
        var ctx = chart.ctx, ca = chart.chartArea;
        ctx.save();

        ctx.strokeStyle = '#000';
        ctx.lineWidth = 1;
        ctx.strokeRect(Math.round(ca.left) + 0.5, Math.round(ca.top) + 0.5,
          Math.round(ca.right - ca.left) - 1, Math.round(ca.bottom - ca.top) - 1);

        ctx.fillStyle = '#000';
        ctx.textAlign = 'left';
        ctx.textBaseline = 'alphabetic';
        var midX = (ca.left + ca.right) / 2;
        drawRichCentered(ctx, titleParts(p), midX, ca.top - (p.ho ? 10 : 6));

        ctx.font = 'italic 17px ' + FONT;
        ctx.textAlign = 'center';
        ctx.fillText('\u2113', midX, ca.bottom + 22);
        ctx.textAlign = 'left';

        if (p.col === 0) {
          // canvas starts at the page edge for this column
          ctx.save();
          ctx.translate(22, (ca.top + ca.bottom) / 2);
          ctx.rotate(-Math.PI / 2);
          drawRichCentered(ctx, YLABEL_PARTS, 0, 0);
          ctx.restore();
        }

        drawLegend(ctx, ca, p);
        ctx.restore();
      }
    };
  }

  function lineDataset(ys, color) {
    return {
      data: zip(ELL_LINE, ys),
      showLine: true,
      borderColor: color,
      borderWidth: 1.4,
      pointRadius: 0,
      tension: 0.35,
      fill: false
    };
  }

  function pointDataset(ys, errs, color, errColor) {
    return {
      data: zip(ELL_BINS, ys),
      errors: errs,
      errorColor: errColor,
      showLine: false,
      pointStyle: 'crossRot',
      pointRadius: 3.8,
      borderColor: color,
      backgroundColor: color,
      pointBorderWidth: 1.2
    };
  }

  function buildPanel(fig, p) {
    var yw = p.col === 0 ? p.box[0] : YW;
    var plotW = p.box[2] - p.box[0], plotH = p.box[3] - p.box[1];
    var w = plotW + yw + RW, h = plotH + TH + XH;
    var canvas = document.createElement('canvas');
    canvas.width = w;
    canvas.height = h;
    canvas.style.left = (p.box[0] - yw) + 'px';
    canvas.style.top = (p.box[1] - TH) + 'px';
    canvas.style.width = w + 'px';
    canvas.style.height = h + 'px';
    fig.appendChild(canvas);

    var tickFont = { family: FONT, size: 8.5 };

    return new Chart(canvas, {
      type: 'scatter',
      data: {
        datasets: [
          pointDataset(p.pts17, p.err17, ORANGE, ORANGE_ERR),
          pointDataset(p.pts51, p.err51, GREEN, GREEN_ERR),
          lineDataset(p.line17, ORANGE),
          lineDataset(p.line51, GREEN)
        ]
      },
      options: {
        responsive: false,
        animation: false,
        devicePixelRatio: 1,
        events: [],
        layout: { padding: { left: 0, top: TH, right: RW, bottom: 0 } },
        plugins: { legend: { display: false }, tooltip: { enabled: false }, title: { display: false } },
        scales: {
          x: {
            type: 'linear',
            min: 2,
            max: 4000,
            afterBuildTicks: function(s) { s.ticks = X_TICKS.map(function(v) { return { value: v }; }); },
            afterFit: function(s) { s.height = XH; },
            grid: { color: GRID, lineWidth: 1, tickColor: '#000', tickLength: 3.5, tickWidth: 1 },
            border: { display: false },
            ticks: { color: '#000', font: tickFont, padding: 2, maxRotation: 0, autoSkip: false,
              callback: function(v) { return String(v); } }
          },
          y: {
            type: 'linear',
            min: p.y[0],
            max: p.y[1],
            afterBuildTicks: function(s) { s.ticks = p.yTicks.map(function(v) { return { value: v }; }); },
            afterFit: function(s) { s.width = yw; },
            grid: { color: GRID, lineWidth: 1, tickColor: '#000', tickLength: 3.5, tickWidth: 1 },
            border: { display: false },
            ticks: { color: '#000', font: tickFont, padding: 3, autoSkip: false,
              callback: function(v) { return fmtTick(v, p.dec); } }
          }
        }
      },
      plugins: [decorPlugin(p)]
    });
  }

  var fig = document.getElementById('fig');
  PANELS.forEach(function(p) { buildPanel(fig, p); });

}(Chart));
</script>
</body>
</html>
